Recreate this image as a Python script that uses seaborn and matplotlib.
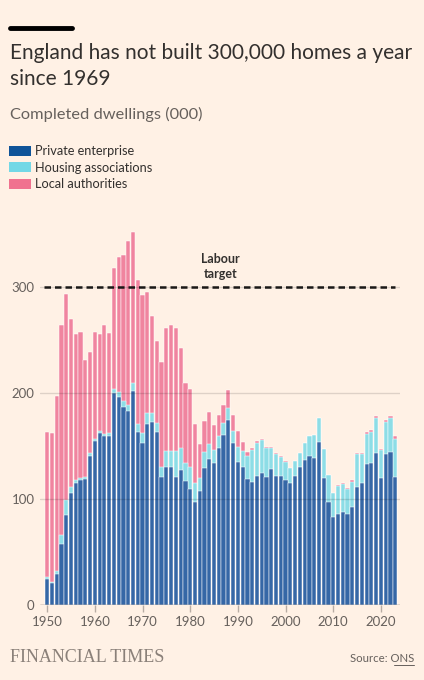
import matplotlib
matplotlib.use("Agg")
import matplotlib.pyplot as plt
from matplotlib.patches import Patch
import seaborn as sns
import pandas as pd

# Datos (miles de viviendas terminadas, Inglaterra)
years = list(range(1950, 2024))
private = [25, 21, 29, 58, 85, 106, 115, 118, 119, 141, 155, 162, 159, 159, 200, 196, 187, 183, 202, 163,
           153, 171, 173, 163, 121, 130, 130, 121, 127, 117, 109, 97, 108, 129, 138, 134, 148, 160, 175, 153,
           135, 130, 119, 116, 122, 125, 121, 128, 122, 122, 118, 115, 122, 130, 137, 141, 139, 154, 120, 97,
           83, 86, 88, 86, 92, 111, 115, 133, 134, 143, 120, 142, 144, 121]
housing_assoc = [1, 1, 3, 8, 14, 5, 3, 2, 2, 2, 2, 2, 2, 3, 4, 5, 5, 6, 7, 8,
                 9, 10, 8, 9, 9, 15, 15, 24, 21, 17, 21, 18, 12, 15, 14, 12, 11, 12, 11, 11,
                 14, 15, 22, 30, 31, 31, 27, 20, 20, 18, 17, 14, 14, 13, 16, 18, 21, 22, 27, 26,
                 23, 26, 26, 23, 24, 31, 27, 28, 29, 33, 26, 31, 32, 36]
local_auth = [137, 140, 165, 198, 194, 159, 138, 138, 110, 96, 101, 92, 103, 95, 114, 127, 138, 154, 143, 136,
              130, 114, 92, 77, 99, 116, 119, 116, 94, 75, 74, 56, 32, 30, 30, 24, 20, 17, 17, 15,
              15, 9, 3, 2, 2, 1, 1, 1, 1, 1, 1, 0, 0, 0, 0, 0, 0, 0, 0, 0,
              0, 1, 1, 1, 2, 1, 1, 2, 2, 2, 1, 2, 2, 2]
legend_labels = ["Private enterprise", "Housing associations", "Local authorities"]
target = 300

df = pd.DataFrame({"year": years, "private": private, "ha": housing_assoc, "la": local_auth})
df["ha_top"] = df["private"] + df["ha"]
df["total"] = df["ha_top"] + df["la"]

bg = "#fff1e5"
c_private = "#3567a6"
c_ha = "#8ddde6"
c_la = "#f0849f"
c_text = "#33302e"
c_muted = "#66605c"

sns.set_theme(style="white")
plt.rcParams["font.family"] = ["Lato", "DejaVu Sans"]

fig = plt.figure(figsize=(4.24, 6.8), dpi=100, facecolor=bg)
ax = fig.add_axes([40 / 424, 75 / 680, 360 / 424, 355 * 1.06 / 680])
ax.set_facecolor(bg)

# Barras apiladas: se dibuja el total y encima los parciales
for col, color in [("total", c_la), ("ha_top", c_ha), ("private", c_private)]:
    sns.barplot(data=df, x="year", y=col, native_scale=True, color=color, width=0.88,
                edgecolor="white", linewidth=0.35, saturation=1, ax=ax, zorder=2)

ax.set_xlim(1948.5, 2024.0)
ax.set_ylim(0, 355)

for y in [100, 200, 300]:
    ax.axhline(y, color="#000000", alpha=0.13, lw=1, zorder=3)
ax.axhline(target, color="#1a1817", lw=1.8, ls=(0, (2.6, 1.6)), zorder=4, xmin=0.01, xmax=0.985)
ax.axhline(0, color=c_muted, lw=1, zorder=4)
ax.text(1986.4, 307, "Labour\ntarget", ha="center", va="bottom", fontsize=9, color=c_text,
        fontweight="bold", linespacing=1.3)

ax.set_xticks(range(1950, 2021, 10))
ax.set_yticks([0, 100, 200, 300])
ax.tick_params(axis="x", length=5, width=1, color="#b8ada4", labelsize=9.5, labelcolor=c_muted, pad=3, bottom=True)
ax.tick_params(axis="y", length=0, labelsize=9.5, labelcolor=c_muted, pad=4)
ax.set_xlabel("")
ax.set_ylabel("")
for s in ax.spines.values():
    s.set_visible(False)

# Encabezado
fig.add_artist(plt.Line2D([10 / 424, 72 / 424], [1 - 28 / 680, 1 - 28 / 680], color="black", lw=3.5))
fig.text(10 / 424, 1 - 85 / 680, "England has not built 300,000 homes a year\nsince 1969",
         fontsize=15, color=c_text, va="baseline", linespacing=1.35)
fig.text(10 / 424, 1 - 119 / 680, "Completed dwellings (000)", fontsize=11.8, color=c_muted, va="baseline")

handles = [Patch(facecolor=c, edgecolor="none") for c in ["#0f5499", "#73d8e6", "#f0728f"]]
fig.legend(handles, legend_labels, loc="upper left", bbox_to_anchor=(4 / 424, 1 - 140 / 680),
           frameon=False, fontsize=9.2, handlelength=1.7, handleheight=0.8, handletextpad=0.35,
           labelspacing=0.35, labelcolor=c_text, borderaxespad=0)

# Pie
fig.text(10 / 424, 1 - 662 / 680, "FINANCIAL TIMES", fontsize=13, color="#8a8079", family="Liberation Serif",
         va="baseline")
fig.text(414 / 424, 1 - 662 / 680, "Source: ONS", fontsize=8.2, color=c_muted, ha="right", va="baseline")
fig.add_artist(plt.Line2D([394 / 424, 414 / 424], [1 - 664.5 / 680, 1 - 664.5 / 680], color=c_muted, lw=0.7))

fig.savefig("out.png", dpi=100, facecolor=bg)
